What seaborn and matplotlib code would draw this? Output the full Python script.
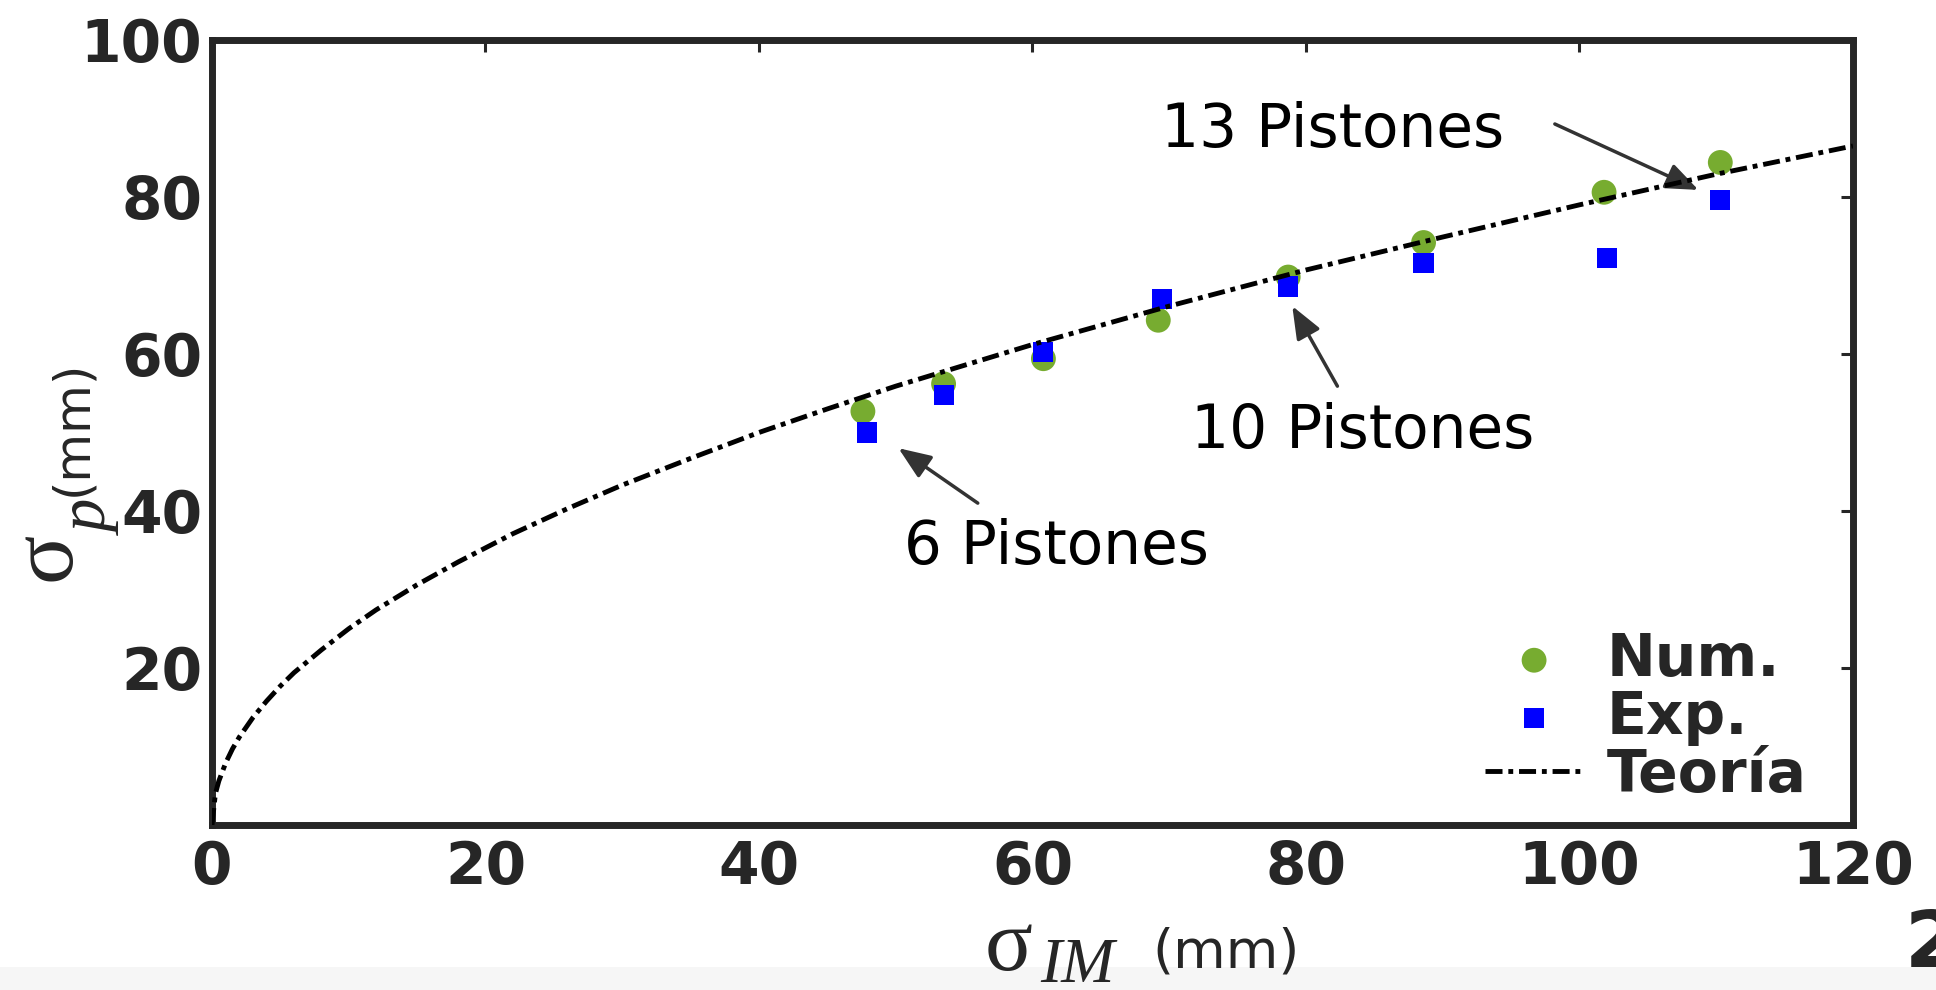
import matplotlib
matplotlib.use("Agg")
import matplotlib.pyplot as plt
import seaborn as sns
from matplotlib.patches import Rectangle

# Numerical results (green circles)
num_x = [47.6, 53.5, 60.8, 69.2, 78.7, 88.6, 101.8, 110.3]
num_y = [52.7, 56.2, 59.4, 64.3, 69.8, 74.2, 80.6, 84.4]

# Experimental results (blue squares)
exp_x = [47.9, 53.5, 60.8, 69.5, 78.7, 88.6, 102.0, 110.3]
exp_y = [50.0, 54.8, 60.3, 67.0, 68.6, 71.6, 72.2, 79.6]

# Theory curve
teo_x = [0, 0.25, 0.5, 1, 1.5, 2, 3, 4, 5, 6, 8, 10, 12, 15, 18, 22, 26, 30,
         35, 40, 45, 50, 60, 70, 80, 90, 100, 110, 120]
teo_y = [0, 4.0, 5.6, 7.9, 9.7, 11.2, 13.7, 15.8, 17.7, 19.4, 22.3, 25.0, 27.4,
         30.6, 33.5, 37.1, 40.3, 43.3, 46.7, 50.0, 53.0, 55.9, 61.2, 66.1, 70.7,
         74.9, 79.0, 82.9, 86.5]

x_ticks = [0, 20, 40, 60, 80, 100, 120]
y_ticks = [20, 40, 60, 80, 100]

# annotations: label, text position, arrow tail, arrow tip
notes = [
    ("13 Pistones", (69.4, 86.4), (98.2, 89.3), (108.7, 80.9)),
    ("10 Pistones", (71.6, 48.0), (82.3, 55.9), (79.0, 66.1)),
    ("6 Pistones", (50.6, 33.3), (56.0, 41.0), (50.2, 48.0)),
]

sns.set_style("white")
plt.rcParams['font.family'] = ['DejaVu Sans']

fig = plt.figure(figsize=(19.36, 9.9), dpi=100)
ax = fig.add_axes([0.1095, 0.1667, 0.8476, 0.7929])

sns.scatterplot(x=num_x, y=num_y, ax=ax, color="#77AC30", marker="o", s=320,
                edgecolor="none", label="Num.", zorder=3)
sns.scatterplot(x=exp_x, y=exp_y, ax=ax, color="#0000FF", marker="s", s=210,
                edgecolor="none", label="Exp.", zorder=4)
sns.lineplot(x=teo_x, y=teo_y, ax=ax, color="black", lw=3.5, label="Teoría",
             errorbar=None, zorder=5)
ax.lines[-1].set_dashes([3.5, 1.2, 1.0, 1.2])

ax.set_xlim(0, 120)
ax.set_ylim(0, 100)
ax.set_xticks(x_ticks, [str(t) for t in x_ticks], fontweight="bold")
ax.set_yticks(y_ticks, [str(t) for t in y_ticks], fontweight="bold")
ax.tick_params(direction="in", top=True, right=True, length=8.5, width=2.2,
               labelsize=42, colors="#262626")
ax.tick_params(axis="x", pad=10)
ax.tick_params(axis="y", pad=7)
for sp in ax.spines.values():
    sp.set_linewidth(5)
    sp.set_color("#262626")
ax.set_xlabel("")
ax.set_ylabel("")

for label, txt, tail, tip in notes:
    ax.text(txt[0], txt[1], label, fontsize=43, ha="left", va="baseline",
            color="black")
    ax.annotate("", xy=tip, xytext=tail,
                arrowprops=dict(arrowstyle="-|>,head_length=0.55,head_width=0.22",
                                mutation_scale=36, lw=2.5, color="#333333",
                                shrinkA=0, shrinkB=0))

leg = ax.legend(loc="lower right", bbox_to_anchor=(1807 / 1936, 0.188),
                bbox_transform=fig.transFigure, frameon=False,
                prop={"weight": "bold", "size": 42}, handlelength=1.7,
                handletextpad=0.4, labelspacing=0.02, borderpad=0,
                borderaxespad=0)

# y axis label: sigma, italic p subscript, (mm)
serif = ["Liberation Serif", "DejaVu Serif"]
fig.text(47 / 1936, 1 - 556 / 990, "σ", family=serif, fontsize=66,
         rotation=90, ha="center", va="center")
fig.text(92 / 1936, 1 - 518 / 990, "p", family=serif, style="italic",
         fontsize=48, rotation=90, ha="center", va="center")
fig.text(72 / 1936, 1 - 428 / 990, "(mm)", fontsize=36, rotation=90,
         ha="center", va="center")

# x axis label: sigma, italic IM subscript, (mm)
fig.text(985 / 1936, 1 - 970 / 990, "σ", family=serif, fontsize=64,
         ha="left", va="baseline", zorder=10)
fig.text(1040 / 1936, 1 - 982 / 990, "IM", family=serif, style="italic",
         fontsize=46, ha="left", va="baseline", zorder=10)
fig.text(1152 / 1936, 1 - 968 / 990, "(mm)", fontsize=39,
         ha="left", va="baseline", zorder=10)

# cut-off slide number and grey strip at the bottom
fig.text(1905 / 1936, 1 - 967 / 990, "2", fontsize=57, fontweight="bold",
         ha="left", va="baseline", zorder=1)
fig.patches.append(Rectangle((0, 0), 1, 23 / 990, transform=fig.transFigure,
                             facecolor="#f6f6f6", edgecolor="none", zorder=2))

fig.savefig("out.png", dpi=100)
